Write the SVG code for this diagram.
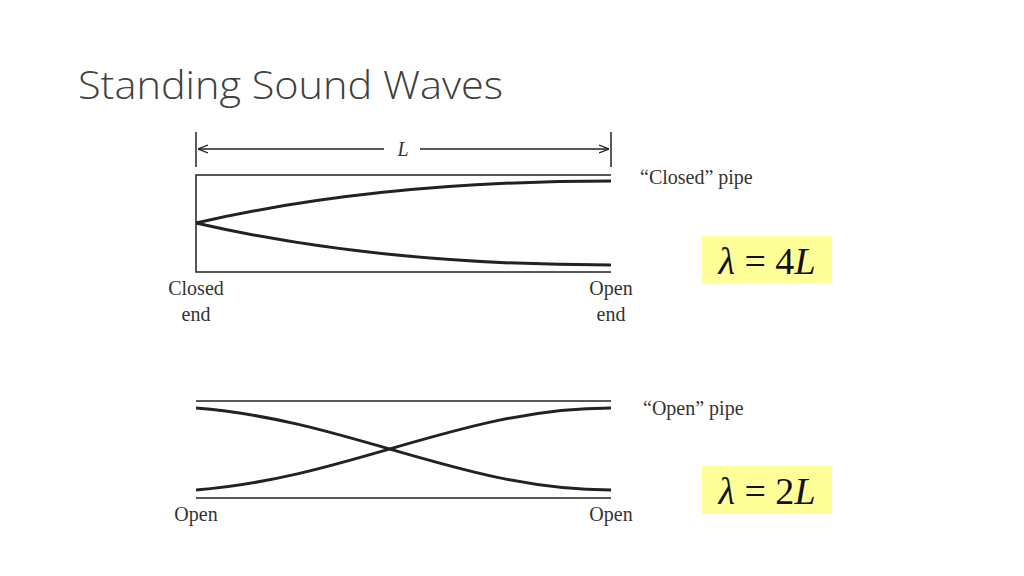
<svg xmlns="http://www.w3.org/2000/svg" width="1024" height="576" viewBox="0 0 1024 576">
<style>
.w{stroke:#222;stroke-width:1.5;fill:none}
.c{stroke:#222;stroke-width:3;fill:none}
.lb{font-family:"Liberation Serif",serif;font-size:20px;fill:#333}
.eq{font-family:"Liberation Serif",serif;font-size:38px;fill:#111}
</style>
<defs>
<marker id="a" viewBox="0 0 10 10" refX="10" refY="5" markerWidth="10" markerHeight="10" orient="auto-start-reverse" markerUnits="userSpaceOnUse"><path d="M0,1 L10,5 L0,9" fill="none" stroke="#222" stroke-width="1.3"/></marker>
</defs>
<rect width="1024" height="576" fill="#fff"/>
<text x="78" y="99" font-family="Open Sans,Lato,sans-serif" font-weight="300" font-size="38" fill="#404040" textLength="425" lengthAdjust="spacingAndGlyphs">Standing Sound Waves</text>
<g id="top-pipe">
<line class="w" x1="196" y1="132" x2="196" y2="167"/>
<line class="w" x1="611" y1="132" x2="611" y2="167"/>
<line class="w" x1="198" y1="149" x2="384" y2="149" marker-start="url(#a)"/>
<line class="w" x1="420" y1="149" x2="609" y2="149" marker-end="url(#a)"/>
<text x="403" y="156" class="lb" font-style="italic" text-anchor="middle" font-size="21">L</text>
<path class="w" d="M611,175 H196 V272 H611"/>
<path class="c" d="M196,223 C300,199 440,181 611,181"/>
<path class="c" d="M196,223 C300,247 440,265 611,265"/>
<text x="640" y="184" class="lb">“Closed” pipe</text>
<text x="196" y="295" class="lb" text-anchor="middle">Closed</text>
<text x="196" y="321" class="lb" text-anchor="middle">end</text>
<text x="611" y="295" class="lb" text-anchor="middle">Open</text>
<text x="611" y="321" class="lb" text-anchor="middle">end</text>
</g>
<g id="eq1"><rect x="702" y="236" width="130" height="48" fill="#ffff99"/>
<text x="767" y="274" class="eq" text-anchor="middle"><tspan font-style="italic">λ</tspan> = 4<tspan font-style="italic">L</tspan></text></g>
<g id="bottom-pipe">
<line class="w" x1="196" y1="401" x2="611" y2="401"/>
<line class="w" x1="196" y1="498" x2="611" y2="498"/>
<path class="c" d="M196,408 C350,420 461,490 611,490"/>
<path class="c" d="M196,490 C350,478 461,408 611,408"/>
<text x="643" y="415" class="lb">“Open” pipe</text>
<text x="196" y="521" class="lb" text-anchor="middle">Open</text>
<text x="611" y="521" class="lb" text-anchor="middle">Open</text>
</g>
<g id="eq2"><rect x="702" y="466" width="130" height="48" fill="#ffff99"/>
<text x="767" y="504" class="eq" text-anchor="middle"><tspan font-style="italic">λ</tspan> = 2<tspan font-style="italic">L</tspan></text></g>
</svg>
